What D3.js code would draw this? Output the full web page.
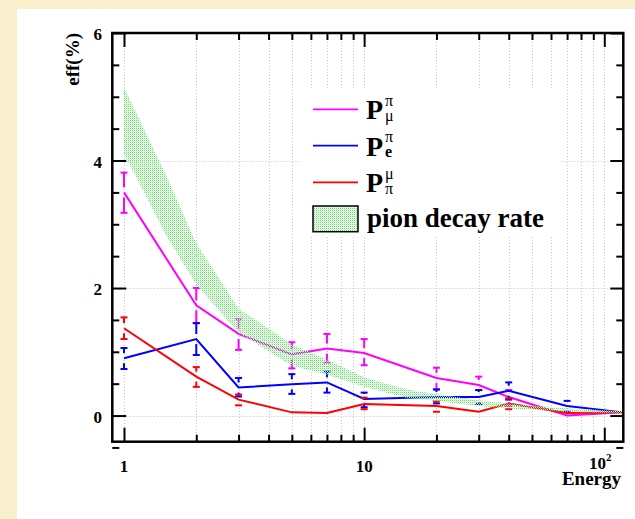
<!DOCTYPE html>
<meta charset="utf-8">
<head>
<style>
  body { margin: 0; background: #faefcd; }
  svg { display: block; }
</style>
</head>
<body>
<svg id="chart" width="635" height="519" style="font-family: 'Liberation Serif', 'DejaVu Serif', serif; font-weight: bold;"></svg>
<script src="https://d3js.org/d3.v7.min.js"></script>
<script>

// energies of the measured points
var energy = [1, 2, 3, 5, 7, 10, 20, 30, 40, 70, 120];

// P_mu^pi (magenta)
var pMu   = [3.50, 1.73, 1.28, 0.96, 1.05, 0.98, 0.59, 0.48, 0.29, 0.00, 0.05];
var pMuLo = [3.18, 1.45, 1.03, 0.74, 0.83, 0.79, 0.41, 0.40, 0.15, null, null];
var pMuHi = [3.81, 2.00, 1.51, 1.15, 1.28, 1.20, 0.75, 0.61, 0.40, null, null];

// P_e^pi (blue)
var pE   = [0.90, 1.20, 0.44, 0.49, 0.52, 0.26, 0.29, 0.29, 0.39, 0.15, 0.05];
var pELo = [0.73, 0.95, 0.30, 0.34, 0.36, 0.13, 0.19, 0.18, 0.25, 0.06, null];
var pEHi = [1.06, 1.45, 0.59, 0.65, 0.69, 0.36, 0.41, 0.40, 0.52, 0.23, null];

// P_pi^mu (red)
var pPi   = [1.37, 0.61, 0.25, 0.05, 0.04, 0.18, 0.15, 0.06, 0.19, 0.04, 0.05];
var pPiLo = [1.20, 0.45, 0.16, null, null, 0.10, 0.06, null, 0.10, null, null];
var pPiHi = [1.54, 0.76, 0.33, null, null, 0.28, 0.22, null, 0.27, null, null];

// pion decay rate band
var bandE  = [1, 1.5, 2, 3, 5, 7, 10, 15, 20, 30, 40, 70, 120];
var bandHi = [5.15, 3.76, 2.70, 1.68, 1.12, 0.88, 0.60, 0.41, 0.34, 0.24, 0.19, 0.11, 0.07];
var bandLo = [4.11, 2.82, 2.05, 1.30, 0.78, 0.64, 0.45, 0.28, 0.23, 0.15, 0.11, 0.06, 0.03];

// ticks
var yMajor = [0, 2, 4, 6];
var yMinor = [-0.5, 0.5, 1, 1.5, 2.5, 3, 3.5, 4.5, 5, 5.5];
var xMajor = [1, 10, 100];
var xMinor = [2, 3, 4, 5, 6, 7, 8, 9, 20, 30, 40, 50, 60, 70, 80, 90];

var frame = {left: 112.3, right: 623.3, top: 33, bottom: 441.7};

var svg = d3.select("#chart");

// white panel on the cream page
svg.append("rect")
    .attr("x", 17).attr("y", 9)
    .attr("width", 635 - 17).attr("height", 519 - 9)
    .attr("fill", "#ffffff");

var defs = svg.append("defs");
var pat = defs.append("pattern")
    .attr("id", "dots")
    .attr("width", 2).attr("height", 2)
    .attr("patternUnits", "userSpaceOnUse");
pat.append("rect").attr("x", 0).attr("y", 0).attr("width", 1).attr("height", 1).attr("fill", "#5ee85e");
pat.append("rect").attr("x", 1).attr("y", 1).attr("width", 1).attr("height", 1).attr("fill", "#c6f7c6");

var x = d3.scaleLog().domain([0.894, 120]).range([frame.left, frame.right]);
var y = d3.scaleLinear().domain([-0.41, 6]).range([frame.bottom, frame.top]);

// grid
var grid = svg.append("g")
    .attr("stroke", "#c4c4c4")
    .attr("stroke-width", 1)
    .attr("stroke-dasharray", "1,2");
grid.selectAll("line.gx")
    .data(xMajor.concat(xMinor))
  .enter().append("line")
    .attr("x1", function(d) { return Math.round(x(d)) + 0.5; })
    .attr("x2", function(d) { return Math.round(x(d)) + 0.5; })
    .attr("y1", frame.top)
    .attr("y2", frame.bottom);
grid.selectAll("line.gy")
    .data([0, 2, 4])
  .enter().append("line")
    .attr("x1", frame.left)
    .attr("x2", frame.right)
    .attr("y1", function(d) { return Math.round(y(d)) + 0.5; })
    .attr("y2", function(d) { return Math.round(y(d)) + 0.5; });

// legend background hides the grid
svg.append("rect")
    .attr("x", 300).attr("y", 90)
    .attr("width", 260).attr("height", 147)
    .attr("fill", "#ffffff");

var series = [
  {v: pMu, lo: pMuLo, hi: pMuHi, color: "#ff00ff"},
  {v: pE,  lo: pELo,  hi: pEHi,  color: "#0000ff"},
  {v: pPi, lo: pPiLo, hi: pPiHi, color: "#ff0000"}
];

var line = d3.line()
    .x(function(d) { return x(d[0]); })
    .y(function(d) { return y(d[1]); });

var gap = 5, cap = 3.5;

series.forEach(function(s) {
  var g = svg.append("g").attr("stroke", s.color).attr("stroke-width", 2).attr("fill", "none");
  g.append("path")
      .attr("d", line(energy.map(function(e, i) { return [e, s.v[i]]; })));

  energy.forEach(function(e, i) {
    if (s.lo[i] == null) return;
    var cx = x(e), yc = y(s.v[i]), yl = y(s.lo[i]), yh = y(s.hi[i]);
    g.append("line").attr("x1", cx - cap).attr("x2", cx + cap).attr("y1", yh).attr("y2", yh);
    g.append("line").attr("x1", cx - cap).attr("x2", cx + cap).attr("y1", yl).attr("y2", yl);
    if (yc - gap > yh) g.append("line").attr("x1", cx).attr("x2", cx).attr("y1", yh).attr("y2", yc - gap);
    if (yc + gap < yl) g.append("line").attr("x1", cx).attr("x2", cx).attr("y1", yc + gap).attr("y2", yl);
  });
});

// pion decay band, dotted fill drawn over the lines
var area = d3.area()
    .x(function(d) { return x(d[0]); })
    .y0(function(d) { return y(d[1]); })
    .y1(function(d) { return y(d[2]); });
svg.append("path")
    .attr("d", area(bandE.map(function(e, i) { return [e, bandLo[i], bandHi[i]]; })))
    .attr("fill", "url(#dots)");

// axes: ticks pointing inside the frame
function ticks(axis, t, vals, size) {
  svg.append("g")
      .attr("transform", t)
      .call(axis.tickValues(vals).tickSize(size).tickFormat(""))
      .call(function(g) { g.select(".domain").remove(); })
      .selectAll("line").attr("stroke", "#000").attr("stroke-width", 2);
}
ticks(d3.axisBottom(x), "translate(0," + frame.bottom + ")", xMajor, -14);
ticks(d3.axisBottom(x), "translate(0," + frame.bottom + ")", xMinor, -7);
ticks(d3.axisTop(x), "translate(0," + frame.top + ")", xMajor, -14);
ticks(d3.axisTop(x), "translate(0," + frame.top + ")", xMinor, -7);
ticks(d3.axisLeft(y), "translate(" + frame.left + ",0)", yMajor, -14);
ticks(d3.axisLeft(y), "translate(" + frame.left + ",0)", yMinor, -7);
ticks(d3.axisRight(y), "translate(" + frame.right + ",0)", yMajor, -13);
ticks(d3.axisRight(y), "translate(" + frame.right + ",0)", yMinor, -7);

svg.append("rect")
    .attr("x", frame.left).attr("y", frame.top)
    .attr("width", frame.right - frame.left)
    .attr("height", frame.bottom - frame.top)
    .attr("fill", "none")
    .attr("stroke", "#000")
    .attr("stroke-width", 2.5);

// tick labels
svg.selectAll("text.ylab")
    .data(yMajor)
  .enter().append("text")
    .attr("x", 102)
    .attr("y", function(d) { return y(d); })
    .attr("dy", "0.42em")
    .attr("text-anchor", "end")
    .style("font-size", "17px")
    .text(function(d) { return d; });

svg.append("text").attr("x", x(1)).attr("y", 471.5).attr("text-anchor", "middle")
    .style("font-size", "17px").text("1");
svg.append("text").attr("x", x(10)).attr("y", 471.5).attr("text-anchor", "middle")
    .style("font-size", "17px").text("10");
var hund = svg.append("text").attr("x", x(100) - 4).attr("y", 469).attr("text-anchor", "middle")
    .style("font-size", "17px");
hund.append("tspan").text("10");
hund.append("tspan").attr("dy", -8).style("font-size", "11px").text("2");

svg.append("text")
    .attr("x", 621).attr("y", 485)
    .attr("text-anchor", "end")
    .style("font-size", "19px")
    .text("Energy");

svg.append("text")
    .attr("transform", "translate(79,33) rotate(-90)")
    .attr("text-anchor", "end")
    .style("font-size", "19px")
    .text("eff(%)");

// legend
var legend = [
  {color: "#ff00ff", sup: "\u03c0", sub: "\u03bc", y: 109.3},
  {color: "#0000ff", sup: "\u03c0", sub: "e", y: 145.7},
  {color: "#ff0000", sup: "\u03bc", sub: "\u03c0", y: 182.3}
];
legend.forEach(function(l) {
  svg.append("line")
      .attr("x1", 313).attr("x2", 358)
      .attr("y1", l.y).attr("y2", l.y)
      .attr("stroke", l.color).attr("stroke-width", 1.8);
  var t = svg.append("text").attr("x", 366).attr("y", l.y + 10)
      .style("font-size", "28px");
  t.append("tspan").text("P");
  t.append("tspan").attr("x", 385).attr("dy", -13.5)
      .style("font-size", "16px").style("font-weight", "normal").text(l.sup);
  t.append("tspan").attr("x", 385).attr("dy", 15)
      .style("font-size", "16px").style("font-weight", l.sub === "e" ? "bold" : "normal").text(l.sub);
});
svg.append("rect")
    .attr("x", 313).attr("y", 206)
    .attr("width", 45).attr("height", 25.7)
    .attr("fill", "url(#dots)")
    .attr("stroke", "#000").attr("stroke-width", 1.5);
svg.append("text").attr("x", 367).attr("y", 226.7)
    .style("font-size", "27px").text("pion decay rate");

</script>
</body>
